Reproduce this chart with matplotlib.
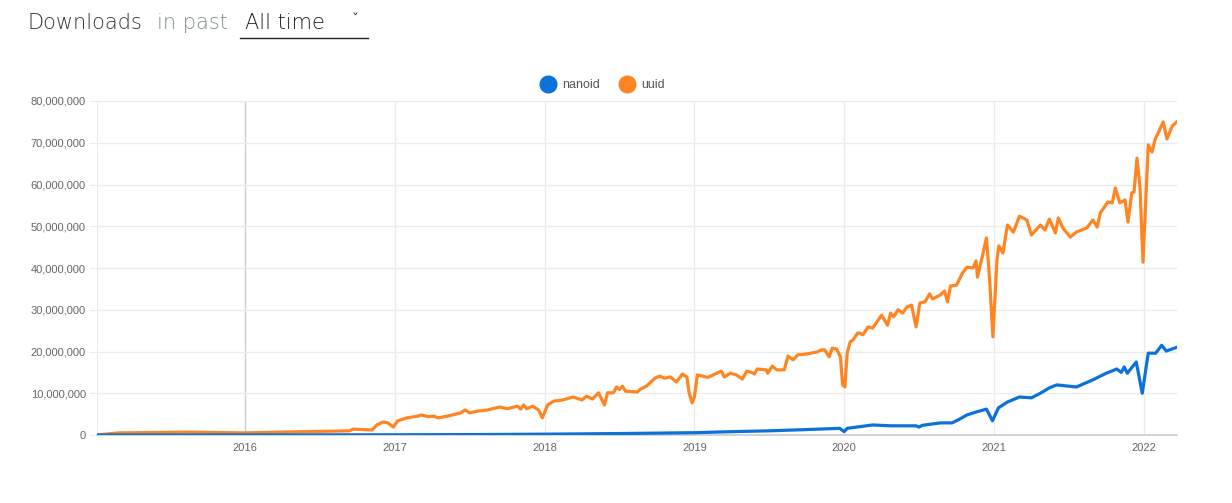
import matplotlib
matplotlib.use("Agg")
import matplotlib.pyplot as plt
from matplotlib.ticker import FuncFormatter
from matplotlib.lines import Line2D
import numpy as np

# weekly downloads (x = decimal year, y = millions)
nanoid_t = [2015.01, 2016.0, 2017.0, 2017.5, 2018.0, 2018.5, 2019.0, 2019.25, 2019.5,
            2019.75, 2019.97, 2020.0, 2020.02, 2020.19, 2020.31, 2020.48, 2020.5, 2020.52,
            2020.64, 2020.72, 2020.76, 2020.82, 2020.88, 2020.95, 2020.99, 2021.03, 2021.09,
            2021.17, 2021.25, 2021.31, 2021.37, 2021.42, 2021.55, 2021.66, 2021.75, 2021.82,
            2021.85, 2021.87, 2021.89, 2021.95, 2021.99, 2022.03, 2022.08, 2022.12, 2022.15,
            2022.22]
nanoid_m = [0.0, 0.02, 0.05, 0.1, 0.2, 0.35, 0.55, 0.8, 1.0,
            1.3, 1.6, 0.8, 1.6, 2.4, 2.2, 2.2, 1.9, 2.3,
            2.9, 2.9, 3.6, 4.8, 5.5, 6.2, 3.4, 6.5, 7.9,
            9.1, 8.9, 10.0, 11.3, 12.0, 11.5, 13.2, 14.8, 15.8,
            15.0, 16.3, 14.8, 17.5, 10.0, 19.6, 19.6, 21.5, 20.1,
            21.0]

uuid_t = [2015.01, 2015.15, 2015.63, 2015.99, 2016.25, 2016.70, 2016.72, 2016.85, 2016.88,
          2016.92, 2016.955, 2016.99, 2017.02, 2017.08, 2017.15, 2017.18, 2017.22, 2017.26,
          2017.29, 2017.35, 2017.44, 2017.47, 2017.50, 2017.55, 2017.62, 2017.70, 2017.75,
          2017.82, 2017.84, 2017.86, 2017.88, 2017.92, 2017.96, 2017.985, 2018.02, 2018.06,
          2018.12, 2018.19, 2018.25, 2018.28, 2018.32, 2018.36, 2018.40, 2018.42, 2018.46,
          2018.48, 2018.50, 2018.52, 2018.54, 2018.62, 2018.64, 2018.68, 2018.74, 2018.77,
          2018.80, 2018.84, 2018.88, 2018.92, 2018.95, 2018.965, 2018.985, 2019.0, 2019.02,
          2019.09, 2019.18, 2019.20, 2019.24, 2019.28, 2019.32, 2019.35, 2019.38, 2019.40,
          2019.42, 2019.48, 2019.49, 2019.52, 2019.55, 2019.60, 2019.625, 2019.66, 2019.69,
          2019.75, 2019.82, 2019.85, 2019.87, 2019.90, 2019.92, 2019.95, 2019.975, 2019.99,
          2020.005, 2020.02, 2020.04, 2020.06, 2020.09, 2020.105, 2020.125, 2020.16, 2020.19,
          2020.25, 2020.29, 2020.31, 2020.33, 2020.36, 2020.39, 2020.42, 2020.45, 2020.48,
          2020.505, 2020.54, 2020.57, 2020.59, 2020.64, 2020.67, 2020.69, 2020.71, 2020.75,
          2020.79, 2020.82, 2020.86, 2020.88, 2020.89, 2020.92, 2020.95, 2020.97, 2020.993,
          2021.02, 2021.033, 2021.06, 2021.09, 2021.13, 2021.17, 2021.22, 2021.25, 2021.31,
          2021.34, 2021.37, 2021.41, 2021.43, 2021.46, 2021.51, 2021.55, 2021.62, 2021.66,
          2021.69, 2021.71, 2021.76, 2021.79, 2021.81, 2021.84, 2021.875, 2021.895, 2021.92,
          2021.935, 2021.955, 2021.975, 2021.995, 2022.03, 2022.055, 2022.075, 2022.13, 2022.155,
          2022.19, 2022.22]
uuid_m = [0.0, 0.5, 0.7, 0.5, 0.7, 1.0, 1.4, 1.2, 2.4,
          3.1, 2.9, 1.9, 3.4, 4.1, 4.5, 4.8, 4.4, 4.5,
          4.1, 4.5, 5.3, 6.0, 5.3, 5.7, 6.0, 6.7, 6.3,
          6.9, 6.2, 7.2, 6.3, 6.9, 6.0, 4.1, 7.2, 8.1,
          8.4, 9.1, 8.4, 9.3, 8.6, 10.1, 7.2, 10.1, 10.1,
          11.5, 10.9, 11.7, 10.5, 10.3, 11.0, 11.7, 13.7, 14.1,
          13.6, 13.9, 12.7, 14.6, 13.9, 10.1, 7.7, 9.1, 14.4,
          13.8, 15.3, 13.9, 14.8, 14.4, 13.4, 15.3, 15.0, 14.6,
          15.8, 15.6, 14.8, 16.5, 15.6, 15.6, 18.9, 18.0, 19.2,
          19.4, 19.9, 20.4, 20.4, 18.7, 20.8, 20.6, 18.7, 12.0,
          11.5, 19.6, 22.3, 22.8, 24.4, 24.4, 24.0, 25.9, 25.6,
          28.7, 26.3, 29.2, 28.3, 30.0, 29.2, 30.7, 31.1, 25.9,
          31.6, 31.9, 33.8, 32.6, 33.5, 34.5, 31.9, 35.7, 35.9,
          38.8, 40.2, 40.0, 41.7, 37.8, 42.4, 47.2, 37.8, 23.5,
          41.9, 45.3, 43.6, 50.3, 48.6, 52.4, 51.5, 47.9, 50.3,
          49.1, 51.7, 48.4, 52.0, 49.6, 47.4, 48.6, 49.6, 51.5,
          49.8, 53.2, 55.8, 55.6, 59.2, 55.6, 56.3, 51.0, 58.0,
          58.2, 66.3, 59.4, 41.4, 69.5, 67.8, 70.7, 75.0, 70.9,
          74.0, 75.0]

series_names = ["nanoid", "uuid"]
series_colors = ["#0a72d8", "#ff8522"]
year_ticks = [2016, 2017, 2018, 2019, 2020, 2021, 2022]
y_ticks = np.arange(0, 80_000_001, 10_000_000)

fig = plt.figure(figsize=(12.32, 5.03), dpi=100)
ax = fig.add_axes([97 / 1232, 68 / 503, 1080 / 1232, 334 / 503])

ax.plot(nanoid_t, np.array(nanoid_m) * 1e6, color=series_colors[0], lw=2.3,
        solid_joinstyle="round", zorder=3)
ax.plot(uuid_t, np.array(uuid_m) * 1e6, color=series_colors[1], lw=2.3,
        solid_joinstyle="round", zorder=2)

ax.set_xlim(2015.012, 2022.222)
ax.set_ylim(0, 80_000_000)
ax.set_xticks(year_ticks)
ax.set_xticklabels([str(y) for y in year_ticks])
ax.set_yticks(y_ticks)
ax.yaxis.set_major_formatter(FuncFormatter(lambda v, p: f"{int(v):,}"))

for sp in ["top", "right"]:
    ax.spines[sp].set_visible(False)
ax.spines["left"].set_color("#ebebeb")
ax.spines["bottom"].set_color("#cccccc")
ax.spines["bottom"].set_linewidth(1.2)

ax.grid(True, color="#ebebeb", lw=1.0)
ax.set_axisbelow(True)
ax.get_xgridlines()[0].set_color("#cfcfcf")
ax.tick_params(axis="y", length=6, color="#ebebeb", labelsize=8, labelcolor="#666666", pad=2)
ax.tick_params(axis="x", length=0, labelsize=8, labelcolor="#666666", pad=6)
for lab in ax.get_xticklabels() + ax.get_yticklabels():
    lab.set_fontfamily("Liberation Sans")

# legend
handles = [Line2D([], [], ls="none", marker="o", ms=12, color=c) for c in series_colors]
leg = fig.legend(handles, series_names, loc="center", bbox_to_anchor=(0.487, 0.831), ncol=2,
                 frameon=False, handletextpad=0.1, columnspacing=1.2,
                 prop={"family": "Liberation Sans", "size": 9})
for t in leg.get_texts():
    t.set_color("#555555")

# header
hy = 1 - 23 / 503
fig.text(28 / 1232, hy, "Downloads", fontsize=15, color="#333333", va="center",
         family="DejaVu Sans", fontweight="light")
fig.text(157 / 1232, hy, "in past", fontsize=15, color="#7f8c8c", va="center",
         family="DejaVu Sans", fontweight="light")
fig.text(245 / 1232, hy, "All time", fontsize=15, color="#222222", va="center",
         family="DejaVu Sans", fontweight="light")
fig.text(352 / 1232, hy + 0.006, "\u02c7", fontsize=10, color="#222222", va="center",
         family="DejaVu Sans")
fig.add_artist(Line2D([240 / 1232, 368 / 1232], [1 - 38 / 503, 1 - 38 / 503],
                      color="#222222", lw=1.0))

fig.savefig("out.png", dpi=100)
